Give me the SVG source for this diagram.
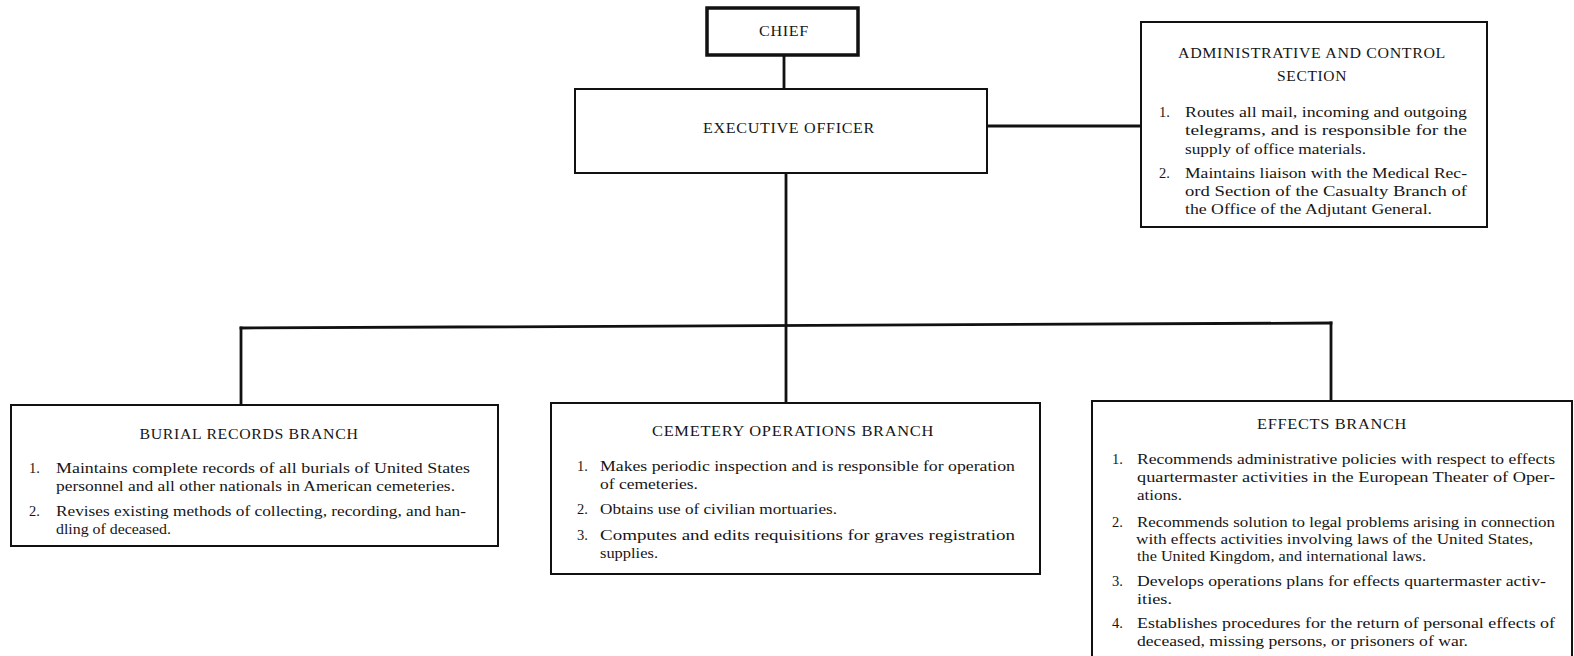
<svg xmlns="http://www.w3.org/2000/svg" width="1574" height="656" viewBox="0 0 1574 656">
  <style>
    .box { fill: #ffffff; stroke: #111111; stroke-width: 2; }
    .chief { fill: #ffffff; stroke: #111111; stroke-width: 3.5; }
    .wire { stroke: #111111; stroke-width: 2.8; fill: none; stroke-linecap: square; }
    text { font-family: "Liberation Serif", "Times New Roman", serif; font-size: 14.5px; fill: #161616; }
    .title { text-anchor: middle; letter-spacing: 0.6px; }
  </style>
  <rect x="0" y="0" width="1574" height="656" fill="#ffffff"/>

  <!-- connectors -->
  <g id="connectors">
    <line class="wire" x1="784" y1="55" x2="784" y2="89"/>
    <line class="wire" x1="987" y1="126" x2="1141" y2="126"/>
    <line class="wire" x1="786" y1="173" x2="786" y2="403"/>
    <line class="wire" x1="241" y1="328" x2="1331" y2="323"/>
    <line class="wire" x1="241" y1="328" x2="241" y2="405"/>
    <line class="wire" x1="1331" y1="323" x2="1331" y2="401"/>
  </g>

  <g id="chief">
    <rect class="chief" x="707" y="8" width="151" height="47"/>
    <text class="title" x="784" y="36" textLength="50" lengthAdjust="spacingAndGlyphs">CHIEF</text>
  </g>

  <g id="executive-officer">
    <rect class="box" x="575" y="89" width="412" height="84"/>
    <text class="title" x="789" y="133" textLength="172" lengthAdjust="spacingAndGlyphs">EXECUTIVE OFFICER</text>
  </g>

  <g id="admin-control-section">
    <rect class="box" x="1141" y="22" width="346" height="205"/>
    <text class="title" x="1312" y="58" textLength="268" lengthAdjust="spacingAndGlyphs">ADMINISTRATIVE AND CONTROL</text>
    <text class="title" x="1312" y="81" textLength="70" lengthAdjust="spacingAndGlyphs">SECTION</text>
    <text x="1159" y="117">1.</text>
    <text x="1185" y="117" textLength="282" lengthAdjust="spacingAndGlyphs">Routes all mail, incoming and outgoing</text>
    <text x="1185" y="135" textLength="282" lengthAdjust="spacingAndGlyphs">telegrams, and is responsible for the</text>
    <text x="1185" y="154" textLength="181" lengthAdjust="spacingAndGlyphs">supply of office materials.</text>
    <text x="1159" y="178">2.</text>
    <text x="1185" y="178" textLength="282" lengthAdjust="spacingAndGlyphs">Maintains liaison with the Medical Rec-</text>
    <text x="1185" y="196" textLength="282" lengthAdjust="spacingAndGlyphs">ord Section of the Casualty Branch of</text>
    <text x="1185" y="214" textLength="247" lengthAdjust="spacingAndGlyphs">the Office of the Adjutant General.</text>
  </g>

  <g id="burial-records-branch">
    <rect class="box" x="11" y="405" width="487" height="141"/>
    <text class="title" x="249" y="439" textLength="219" lengthAdjust="spacingAndGlyphs">BURIAL RECORDS BRANCH</text>
    <text x="29" y="473">1.</text>
    <text x="56" y="473" textLength="414" lengthAdjust="spacingAndGlyphs">Maintains complete records of all burials of United States</text>
    <text x="56" y="491" textLength="399" lengthAdjust="spacingAndGlyphs">personnel and all other nationals in American cemeteries.</text>
    <text x="29" y="516">2.</text>
    <text x="56" y="516" textLength="410" lengthAdjust="spacingAndGlyphs">Revises existing methods of collecting, recording, and han-</text>
    <text x="56" y="534" textLength="115" lengthAdjust="spacingAndGlyphs">dling of deceased.</text>
  </g>

  <g id="cemetery-operations-branch">
    <rect class="box" x="551" y="403" width="489" height="171"/>
    <text class="title" x="793" y="436" textLength="282" lengthAdjust="spacingAndGlyphs">CEMETERY OPERATIONS BRANCH</text>
    <text x="577" y="471">1.</text>
    <text x="600" y="471" textLength="415" lengthAdjust="spacingAndGlyphs">Makes periodic inspection and is responsible for operation</text>
    <text x="600" y="489" textLength="98" lengthAdjust="spacingAndGlyphs">of cemeteries.</text>
    <text x="577" y="514">2.</text>
    <text x="600" y="514" textLength="237" lengthAdjust="spacingAndGlyphs">Obtains use of civilian mortuaries.</text>
    <text x="577" y="540">3.</text>
    <text x="600" y="540" textLength="415" lengthAdjust="spacingAndGlyphs">Computes and edits requisitions for graves registration</text>
    <text x="600" y="558" textLength="58" lengthAdjust="spacingAndGlyphs">supplies.</text>
  </g>

  <g id="effects-branch">
    <rect class="box" x="1092" y="401" width="480" height="270"/>
    <text class="title" x="1332" y="429" textLength="150" lengthAdjust="spacingAndGlyphs">EFFECTS BRANCH</text>
    <text x="1112" y="464">1.</text>
    <text x="1137" y="464" textLength="418" lengthAdjust="spacingAndGlyphs">Recommends administrative policies with respect to effects</text>
    <text x="1137" y="482" textLength="418" lengthAdjust="spacingAndGlyphs">quartermaster activities in the European Theater of Oper-</text>
    <text x="1137" y="500" textLength="45" lengthAdjust="spacingAndGlyphs">ations.</text>
    <text x="1112" y="527">2.</text>
    <text x="1137" y="527" textLength="418" lengthAdjust="spacingAndGlyphs">Recommends solution to legal problems arising in connection</text>
    <text x="1136" y="544" textLength="397" lengthAdjust="spacingAndGlyphs">with effects activities involving laws of the United States,</text>
    <text x="1137" y="561" textLength="289" lengthAdjust="spacingAndGlyphs">the United Kingdom, and international laws.</text>
    <text x="1112" y="586">3.</text>
    <text x="1137" y="586" textLength="409" lengthAdjust="spacingAndGlyphs">Develops operations plans for effects quartermaster activ-</text>
    <text x="1137" y="604" textLength="35" lengthAdjust="spacingAndGlyphs">ities.</text>
    <text x="1112" y="628">4.</text>
    <text x="1137" y="628" textLength="418" lengthAdjust="spacingAndGlyphs">Establishes procedures for the return of personal effects of</text>
    <text x="1137" y="646" textLength="331" lengthAdjust="spacingAndGlyphs">deceased, missing persons, or prisoners of war.</text>
  </g>
</svg>
